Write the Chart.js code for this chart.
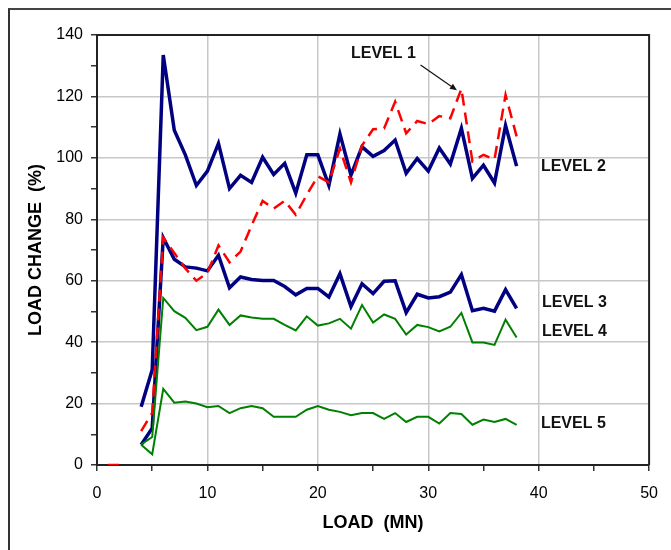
<!DOCTYPE html>
<html>
<head>
<meta charset="utf-8">
<title>Load Change</title>
<style>
html, body { margin: 0; padding: 0; background: #fff; overflow: hidden; }
#frame { position: absolute; left: 8px; top: 8px; width: 700px; height: 600px;
  border-top: 2px solid #444; border-left: 2px solid #333; }
#chart { position: absolute; left: 0; top: 0; }
</style>
</head>
<body>
<div id="frame"></div>
<canvas id="chart" width="671" height="550"></canvas>
<script src="https://cdn.jsdelivr.net/npm/chart.js"></script>
<script>
// load values (MN)
const loads = [1, 2, 3, 4, 5, 6, 7, 8, 9, 10, 11, 12, 13, 14, 15, 16, 17, 18, 19, 20,
  21, 22, 23, 24, 25, 26, 27, 28, 29, 30, 31, 32, 33, 34, 35, 36, 37, 38];

// load change (%) per level
const level1 = [0, 0, null, 11, 17, 74, 69, 64, 60, 62.5, 71.5, 66, 69.5, 78, 86, 83.5, 86, 81.5, 88, 94,
  92, 103, 92, 104, 109.3, 109.6, 118.3, 108, 112, 111, 113.6, 112.9, 122.5, 98.8, 101, 99.5, 120.5, 107];
const level2 = [null, null, null, 19, 31, 133.5, 109, 101, 91, 95.7, 104.7, 90, 94.3, 92, 100.2, 94.6, 98.2, 88.5, 101, 101,
  91, 107.8, 94.4, 103.6, 100.5, 102.4, 105.8, 95, 99.8, 95.7, 103.2, 98, 109.6, 93.3, 97.6, 91.8, 110.5, 97.3];
const level3 = [null, null, null, 6.6, 12, 74, 67, 64.5, 64.1, 63.2, 68.3, 57.7, 61.2, 60.4, 60.1, 60.1, 58.1, 55.4, 57.5, 57.5,
  54.7, 62.3, 51.6, 59, 55.8, 59.8, 60, 49.6, 55.6, 54.4, 54.8, 56.3, 62, 50.2, 51, 50.1, 57.1, 51];
const level4 = [null, null, null, 6.7, 9.1, 54.4, 50.1, 47.9, 43.9, 45, 50.6, 45.6, 48.7, 48, 47.6, 47.6, 45.6, 43.8, 48.4, 45.4,
  46.1, 47.6, 44.4, 52.1, 46.4, 49, 47.6, 42.5, 45.6, 44.9, 43.5, 45, 49.5, 39.9, 39.9, 39.1, 47.3, 41.5];
const level5 = [null, null, null, 6.6, 3.5, 24.8, 20.3, 20.7, 20, 18.8, 19.2, 16.9, 18.5, 19.2, 18.5, 15.7, 15.7, 15.7, 18, 19.2,
  18, 17.3, 16.2, 16.9, 16.9, 15, 16.9, 14, 15.7, 15.7, 13.5, 16.9, 16.6, 13.1, 14.8, 14, 15, 13.1];

// text labels placed in data units
const levelLabels = ['LEVEL 1', 'LEVEL 2', 'LEVEL 3', 'LEVEL 4', 'LEVEL 5'];
const labelX = [23, 40.2, 40.3, 40.3, 40.2];
const labelY = [134, 97, 53, 43.3, 13.4];
const arrowFrom = [29.3, 130.2];
const arrowTo = [32.6, 122];

function pts(arr) {
  return loads.map((x, i) => ({ x: x, y: arr[i] }));
}

const FONT = "'Liberation Sans', Arial, Helvetica, sans-serif";

const extras = {
  id: 'extras',
  afterDraw(chart) {
    const c = chart.ctx;
    const a = chart.chartArea;
    const xs = chart.scales.x, ys = chart.scales.y;
    c.save();
    // top & right of the plot frame
    c.strokeStyle = '#222';
    c.lineWidth = 2;
    c.beginPath();
    c.moveTo(a.left, a.top);
    c.lineTo(a.right, a.top);
    c.lineTo(a.right, a.bottom);
    c.stroke();

    c.fillStyle = '#111';
    c.font = 'bold 16px ' + FONT;
    c.textBaseline = 'middle';
    c.textAlign = 'left';
    for (let i = 0; i < levelLabels.length; i++) {
      c.fillText(levelLabels[i], xs.getPixelForValue(labelX[i]), ys.getPixelForValue(labelY[i]));
    }

    // arrow to level 1 peak
    const x1 = xs.getPixelForValue(arrowFrom[0]), y1 = ys.getPixelForValue(arrowFrom[1]);
    const x2 = xs.getPixelForValue(arrowTo[0]), y2 = ys.getPixelForValue(arrowTo[1]);
    const ang = Math.atan2(y2 - y1, x2 - x1);
    c.strokeStyle = '#111';
    c.lineWidth = 1.2;
    c.beginPath();
    c.moveTo(x1, y1);
    c.lineTo(x2 - 4 * Math.cos(ang), y2 - 4 * Math.sin(ang));
    c.stroke();
    c.beginPath();
    c.moveTo(x2, y2);
    c.lineTo(x2 - 7 * Math.cos(ang) + 3 * Math.sin(ang), y2 - 7 * Math.sin(ang) - 3 * Math.cos(ang));
    c.lineTo(x2 - 7 * Math.cos(ang) - 3 * Math.sin(ang), y2 - 7 * Math.sin(ang) + 3 * Math.cos(ang));
    c.closePath();
    c.fill();
    c.restore();
  }
};

new Chart(document.getElementById('chart'), {
  type: 'line',
  data: {
    datasets: [
      { label: 'Level 1', data: pts(level1), borderColor: '#ff0000', borderWidth: 2.5, borderDash: [12, 7] },
      { label: 'Level 4', data: pts(level4), borderColor: '#008000', borderWidth: 2 },
      { label: 'Level 5', data: pts(level5), borderColor: '#008000', borderWidth: 2 },
      { label: 'Level 2', data: pts(level2), borderColor: '#000080', borderWidth: 3.5 },
      { label: 'Level 3', data: pts(level3), borderColor: '#000080', borderWidth: 3.5 }
    ]
  },
  options: {
    responsive: false,
    animation: false,
    spanGaps: false,
    layout: { padding: { top: 35, right: 19, left: 0, bottom: 0 } },
    elements: { point: { radius: 0 }, line: { tension: 0, fill: false, borderJoinStyle: 'miter' } },
    plugins: { legend: { display: false }, tooltip: { enabled: false } },
    scales: {
      x: {
        type: 'linear',
        min: 0, max: 50,
        afterFit(s) { s.height = 85; },
        border: { color: '#222', width: 2 },
        grid: {
          color: ctx => (ctx.tick && ctx.tick.value % 10 === 0 && ctx.tick.value > 0 && ctx.tick.value < 50) ? '#c8c8c8' : 'transparent',
          lineWidth: 1.5,
          tickColor: '#333',
          tickWidth: 1.5,
          tickLength: 6
        },
        ticks: {
          stepSize: 5,
          autoSkip: false,
          maxRotation: 0,
          padding: 13,
          color: '#000',
          font: { family: FONT, size: 16 },
          callback: v => (v % 10 === 0 ? v : '')
        },
        title: {
          display: true,
          text: 'LOAD  (MN)',
          color: '#000',
          font: { family: FONT, size: 18, weight: 'bold' },
          padding: { top: 0, bottom: 16 }
        }
      },
      y: {
        min: 0, max: 140,
        afterFit(s) { s.width = 97; },
        border: { color: '#222', width: 2 },
        grid: {
          color: ctx => (ctx.tick && ctx.tick.value % 20 === 0 && ctx.tick.value > 0 && ctx.tick.value < 140) ? '#c8c8c8' : 'transparent',
          lineWidth: 1.5,
          tickColor: '#333',
          tickWidth: 1.5,
          tickLength: 6
        },
        ticks: {
          stepSize: 10,
          autoSkip: false,
          padding: 8,
          color: '#000',
          font: { family: FONT, size: 16 },
          callback: v => (v % 20 === 0 ? v : '')
        },
        title: {
          display: true,
          text: 'LOAD CHANGE  (%)',
          color: '#000',
          font: { family: FONT, size: 18, weight: 'bold' },
          padding: { top: 25, bottom: 0 }
        }
      }
    }
  },
  plugins: [extras]
});
</script>
</body>
</html>
